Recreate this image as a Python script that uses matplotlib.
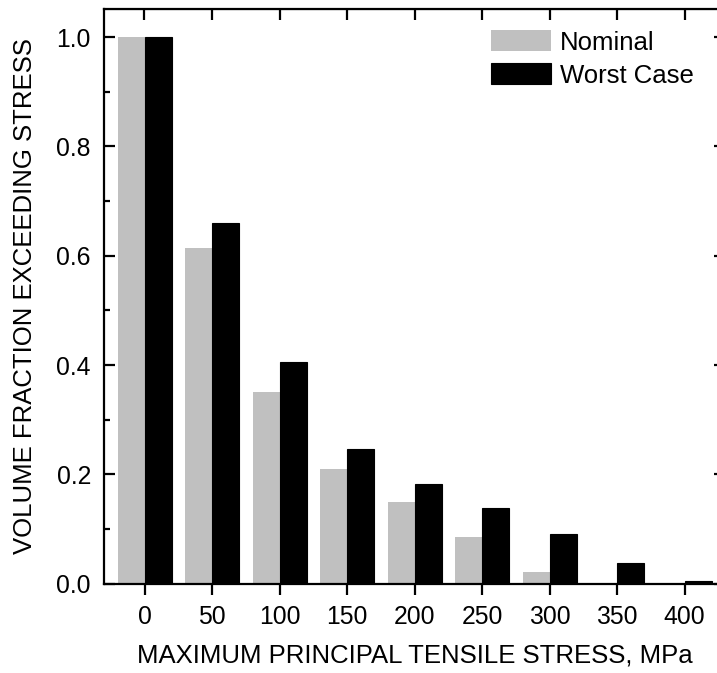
import matplotlib
matplotlib.use("Agg")
import matplotlib.pyplot as plt
import numpy as np
from matplotlib.ticker import MultipleLocator

stress = [0, 50, 100, 150, 200, 250, 300, 350, 400]
nominal = [1.0, 0.615, 0.350, 0.209, 0.149, 0.085, 0.021, 0.0, 0.0]
worst = [1.0, 0.660, 0.406, 0.247, 0.182, 0.138, 0.091, 0.038, 0.005]
series_names = ["Nominal", "Worst Case"]
xlabel = "MAXIMUM PRINCIPAL TENSILE STRESS, MPa"
ylabel = "VOLUME FRACTION EXCEEDING STRESS"

plt.rcParams['font.family'] = ['Liberation Sans', 'DejaVu Sans']

W, H = 717, 673
fig = plt.figure(figsize=(W / 100, H / 100), dpi=100)
left, right, top, bottom = 104, 725, 9.3, 583.7
ax = fig.add_axes([left / W, (H - bottom) / H, (right - left) / W, (bottom - top) / H])

x = np.array(stress, dtype=float)
bw = 20
ax.bar(x - bw / 2, nominal, width=bw, color='#c0c0c0', edgecolor='none', label=series_names[0], zorder=2)
ax.bar(x + bw / 2, worst, width=bw, color='black', edgecolor='black', linewidth=0.8, label=series_names[1], zorder=2)

ax.set_xlim(-30, 430)
ax.set_ylim(0, 1.051)
ax.set_xticks(stress)
ax.set_yticks([0, 0.2, 0.4, 0.6, 0.8, 1.0])
ax.yaxis.set_minor_locator(MultipleLocator(0.1))
ax.set_yticklabels(["0.0", "0.2", "0.4", "0.6", "0.8", "1.0"])

for s in ax.spines.values():
    s.set_linewidth(1.6)

ax.tick_params(axis='x', which='major', direction='out', length=8, width=1.6, top=False, labelsize=17.8, pad=7)
ax.tick_params(axis='y', which='major', direction='in', length=8, width=1.6, right=True, labelsize=17.8, pad=9.4)
ax.tick_params(axis='y', which='minor', direction='in', length=4.5, width=1.6, right=True)

# top ticks (inward, no labels)
axt = ax.secondary_xaxis('top')
axt.set_xticks(stress)
axt.tick_params(direction='in', length=8, width=1.6, labeltop=False)

ax.set_xlabel(xlabel, fontsize=18.5, labelpad=11)
ax.set_ylabel(ylabel, fontsize=18.5, labelpad=14)

ax.legend(loc='upper left', bbox_to_anchor=(491 / W, 1 - 30 / H), bbox_transform=fig.transFigure,
          frameon=False, fontsize=18.5, handlelength=2.35, handleheight=0.9, handletextpad=0.35,
          labelspacing=0.33, borderpad=0, borderaxespad=0)

fig.savefig("out.png", dpi=100)
